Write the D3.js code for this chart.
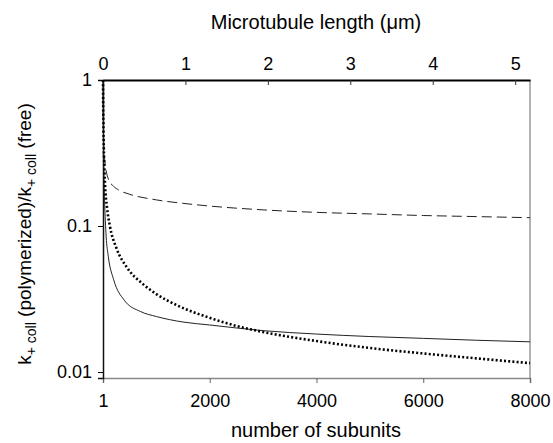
<!DOCTYPE html>
<html>
<head>
<meta charset="utf-8">
<script src="https://cdn.jsdelivr.net/npm/d3@7"></script>
<style>
  body { margin: 0; background: #fff; }
  text { font-family: "Liberation Sans", Arial, sans-serif; fill: #000; }
</style>
</head>
<body>
<svg id="chart" width="553" height="443"></svg>
<script>
// number of subunits (x) and ratio values for each curve
const dashedN = [1, 5, 10, 20, 40, 60, 100, 200, 300, 500, 1000, 1500, 2000, 3000, 4000, 5000, 6000, 7000, 8000];
const dashedV = [1, 0.6, 0.45, 0.33, 0.27, 0.24, 0.21, 0.187, 0.176, 0.165, 0.151, 0.143, 0.137, 0.129, 0.124, 0.121, 0.118, 0.116, 0.114];

const solidN = [1, 5, 10, 20, 30, 60, 100, 200, 400, 700, 1000, 1500, 2000, 3000, 4000, 5000, 6000, 7000, 8000];
const solidV = [1, 0.6, 0.4, 0.2, 0.15, 0.085, 0.062, 0.043, 0.031, 0.026, 0.024, 0.022, 0.021, 0.0192, 0.0182, 0.0175, 0.017, 0.0165, 0.0161];

const dottedN = [1, 5, 10, 20, 40, 75, 130, 250, 450, 750, 1000, 1400, 2000, 2500, 3000, 4000, 5000, 6000, 7000, 8000];
const dottedV = [1, 0.65, 0.45, 0.3, 0.19, 0.135, 0.1, 0.071, 0.052, 0.04, 0.0342, 0.0285, 0.0235, 0.0207, 0.0188, 0.0163, 0.0146, 0.0134, 0.0124, 0.0115];

const bottomTicks = [1, 2000, 4000, 6000, 8000];
const topTicks = [0, 1, 2, 3, 4, 5];
const leftTicks = [1, 0.1, 0.01];

const svg = d3.select('#chart');
const m = { left: 103, right: 530, top: 80, bottom: 378 };

const x = d3.scaleLinear().domain([1, 8000]).range([m.left, m.right]);
const xTop = d3.scaleLinear().domain([0, 5.18]).range([m.left, m.right]);
const y = d3.scaleLog().domain([0.0091, 1]).range([m.bottom, m.top]);

// frame: right edge in grey
svg.append('line')
  .attr('x1', m.right).attr('x2', m.right).attr('y1', m.top).attr('y2', m.bottom)
  .attr('stroke', '#999').attr('stroke-width', 1.5);

// bottom axis
const bottomAxis = svg.append('g')
  .attr('transform', `translate(0,${m.bottom})`)
  .call(d3.axisBottom(x).tickValues(bottomTicks).tickSize(5).tickPadding(11).tickFormat(d3.format('d')));
bottomAxis.select('.domain').attr('stroke', '#888').attr('stroke-width', 1.5);
bottomAxis.selectAll('.tick line').attr('stroke', '#666');
bottomAxis.selectAll('text').style('font-size', '18px');

// top axis, ticks pointing inward
const topAxis = svg.append('g')
  .attr('transform', `translate(0,${m.top})`)
  .call(d3.axisTop(xTop).tickValues(topTicks).tickSizeInner(-5).tickSizeOuter(0).tickPadding(10).tickFormat(d3.format('d')));
topAxis.select('.domain').attr('stroke', '#000').attr('stroke-width', 2);
topAxis.selectAll('.tick line').attr('stroke', '#333');
topAxis.selectAll('text').style('font-size', '18px');

// left axis
const leftAxis = svg.append('g')
  .attr('transform', `translate(${m.left},0)`)
  .call(d3.axisLeft(y).tickValues(leftTicks).tickSize(5).tickPadding(6).tickFormat(d => d3.format('~g')(d)));
leftAxis.select('.domain').attr('stroke', '#111').attr('stroke-width', 1.5);
leftAxis.selectAll('text').style('font-size', '18px');

// curves
const line = (ns, vs) => d3.line()
  .x((d, i) => x(ns[i]))
  .y((d, i) => y(vs[i]))
  .curve(d3.curveMonotoneX)(ns);

svg.append('path').attr('d', line(dashedN, dashedV))
  .attr('fill', 'none').attr('stroke', '#222').attr('stroke-width', 1)
  .attr('stroke-dasharray', '10,5');

svg.append('path').attr('d', line(solidN, solidV))
  .attr('fill', 'none').attr('stroke', '#222').attr('stroke-width', 1);

svg.append('path').attr('d', line(dottedN, dottedV))
  .attr('fill', 'none').attr('stroke', '#000').attr('stroke-width', 2.6)
  .attr('stroke-dasharray', '2,2.2');

// titles
svg.append('text')
  .attr('x', 316).attr('y', 29).attr('text-anchor', 'middle')
  .style('font-size', '20px')
  .text('Microtubule length (\u03bcm)');

svg.append('text')
  .attr('x', 316).attr('y', 437).attr('text-anchor', 'middle')
  .style('font-size', '20px')
  .text('number of subunits');

const yt = svg.append('text')
  .attr('transform', 'translate(31,234) rotate(-90)')
  .attr('text-anchor', 'middle')
  .style('font-size', '19px');
yt.append('tspan').text('k');
yt.append('tspan').attr('dy', 5).style('font-size', '14px').text('+ coll');
yt.append('tspan').attr('dy', -5).text(' (polymerized)/k');
yt.append('tspan').attr('dy', 5).style('font-size', '14px').text('+ coll');
yt.append('tspan').attr('dy', -5).text(' (free)');
</script>
</body>
</html>
